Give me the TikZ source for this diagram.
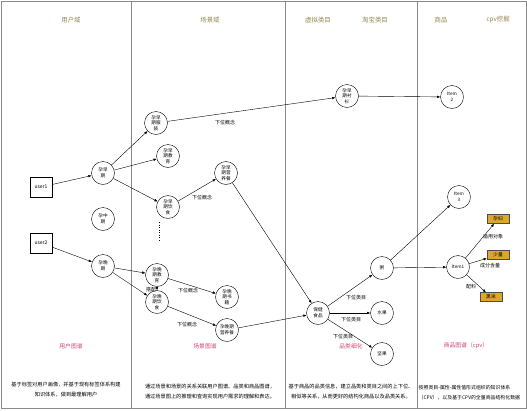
\documentclass[tikz,border=0pt]{standalone}
\usepackage{fontspec}
\setmainfont{Noto Sans CJK SC}
\usepackage{xcolor}
\usetikzlibrary{arrows.meta}

\definecolor{headcol}{HTML}{958450}
\definecolor{titlecol}{HTML}{D0457A}
\definecolor{framecol}{HTML}{8A8A8A}
\definecolor{tagfill}{HTML}{DCA82A}

\begin{document}
\begin{tikzpicture}[x=1pt, y=-1pt,
    >={Latex[length=3.2pt,width=2.6pt]},
    ent/.style={circle, draw, line width=0.4pt, minimum size=23pt, inner sep=0pt,
        align=center, font=\fontsize{4.6}{5.6}\selectfont},
    userbox/.style={draw, line width=0.4pt, minimum width=22pt, minimum height=20pt,
        inner sep=0pt, font=\fontsize{5}{6}\selectfont},
    tag/.style={draw=black!70, fill=tagfill, line width=0.4pt, minimum width=22pt,
        minimum height=9pt, inner sep=0pt, font=\fontsize{4.8}{5.6}\selectfont},
    lbl/.style={font=\fontsize{5}{6}\selectfont, inner sep=0.5pt},
    head/.style={text=headcol, font=\fontsize{6.4}{7.6}\selectfont},
    title/.style={text=titlecol, font=\fontsize{5.8}{7}\selectfont},
    desc/.style={font=\fontsize{5.2}{10}\selectfont, align=center},
    rel/.style={->, line width=0.4pt}]
    \useasboundingbox (0,0) rectangle (527,410);

    % 1. Khung và các cột
    \draw[framecol, line width=0.6pt] (1,1) rectangle (526,408);
    \foreach \xc in {131, 285, 417}
        \draw[framecol, line width=0.6pt] (\xc,1) -- (\xc,408);

    % 2. Tiêu đề các miền
    \node[head] (h1) at (71,20) {用户域};
    \node[head] (h2) at (210,20) {场景域};
    \node[head] (h3) at (318,20) {虚拟类目};
    \node[head] (h4) at (375,20) {淘宝类目};
    \node[head] (h5) at (441,20) {商品};
    \node[head] (h6) at (498,20) {cpv挖掘};

    % 3. Người dùng và giai đoạn
    \node[userbox] (user1) at (41,187) {user1};
    \node[userbox] (user2) at (41,243) {user2};
    \node[ent] (zao) at (103,173) {孕早\\期};
    \node[ent] (zhong) at (103,219) {孕中\\期};
    \node[ent] (wan) at (103,266) {孕晚\\期};

    % 4. Các cảnh
    \node[ent] (zfz) at (156,123) {孕早\\期服\\装};
    \node[ent] (zjy) at (168,156) {孕早\\期教\\育};
    \node[ent] (zys) at (168,207) {孕早\\期饮\\食};
    \node[ent] (zyy) at (226,173) {孕早\\期营\\养餐};
    \node[ent] (wjy) at (157,275) {孕晚\\期教\\育};
    \node[ent] (wys) at (157,302) {孕晚\\期饮\\食};
    \node[ent] (wsj) at (227,297) {孕晚\\期书\\籍};
    \node[ent] (wyy) at (227,330) {孕晚期\\营养餐};
    \draw[dotted, line width=0.5pt] (159,222) -- (159,240);

    % 5. Danh mục
    \node[ent] (zcs) at (347,96) {孕早\\期衬\\衫};
    \node[ent] (bjsp) at (318,313) {保健\\食品};
    \node[ent] (zhou) at (382,268) {粥};
    \node[ent] (sg) at (382,313) {水果};
    \node[ent] (jg) at (382,354) {坚果};

    % 6. Sản phẩm và thuộc tính
    \node[ent] (item2) at (452,97) {Item\\2};
    \node[ent] (item3) at (459,197) {Item\\3};
    \node[ent] (item1) at (458,267) {Item1};
    \node[tag] (yf) at (498,219) {孕妇};
    \node[tag] (sl) at (498,255) {少量};
    \node[tag] (hm) at (491,297) {黑米};

    % 7. Các cạnh
    \draw[rel] (user1) -- (zao);
    \draw[rel] (user2) -- (wan);
    \draw[rel] (zao) -- (zfz);
    \draw[rel] (zao) -- (zjy);
    \draw[rel] (zao) -- (zys);
    \draw[rel] (zfz) -- (zcs);
    \draw[rel] (zys) -- (zyy);
    \draw[rel] (zyy) -- (bjsp);
    \draw[rel] (zcs) -- (item2);
    \draw[rel] (wan) -- (wjy);
    \draw[rel] (wan) -- (wys);
    \draw[rel] (wjy) -- (wys);
    \draw[rel] (wjy) -- (wsj);
    \draw[rel] (wys) -- (wyy);
    \draw[rel] (wyy) -- (bjsp);
    \draw[rel] (bjsp) -- (zhou);
    \draw[rel] (bjsp) -- (sg);
    \draw[rel] (bjsp) -- (jg);
    \draw[rel] (zhou) -- (item3);
    \draw[rel] (zhou) -- (item1);
    \draw[rel] (item1) -- (yf);
    \draw[rel] (item1) -- (sl);
    \draw[rel] (item1) -- (hm);

    % 8. Nhãn quan hệ
    \node[lbl] (l1) at (225,123) {下位概念};
    \node[lbl] (l2) at (202,198) {下位概念};
    \node[lbl] (l3) at (151,290) {搭配};
    \node[lbl] (l4) at (188,291) {下位概念};
    \node[lbl] (l5) at (187,325) {下位概念};
    \node[lbl] (l6) at (356,298) {下位类目};
    \node[lbl] (l7) at (351,320) {下位类目};
    \node[lbl] (l8) at (343,337) {下位类目};
    \node[lbl] (l9) at (493,237) {适用对象};
    \node[lbl] (l10) at (490,266) {成分含量};
    \node[lbl] (l11) at (471,287) {配料};

    % 9. Chú thích cuối
    \node[title] (t1) at (71,346) {用户图谱};
    \node[title] (t2) at (205,346) {场景图谱};
    \node[title] (t3) at (351,346) {品类细化};
    \node[title] (t4) at (466,346) {商品图谱（cpv）};
    \node[desc] (d1) at (66,390) {基于标签对用户画像，并基于现有标签体系构建\\知识体系，做到最理解用户};
    \node[desc, align=left] (d2) at (210,392) {通过场景和场景的关系关联用户图谱、品类和商品图谱，\\通过场景图上的推理和查询实现用户需求的理解和表达。};
    \node[desc] (d3) at (351,392) {基于商品的品类信息，建立品类和类目之间的上下位、\\相似等关系，从而更好的结构化商品以及品类关系。};
    \node[desc, align=left, anchor=west, inner sep=0pt, font=\fontsize{4.9}{10}\selectfont] (d4) at (418.5,393) {按照类目-属性-属性值形式组织的知识体系\\（CPV），以及基于CPV的全量商品结构化数据};
\end{tikzpicture}
\end{document}
